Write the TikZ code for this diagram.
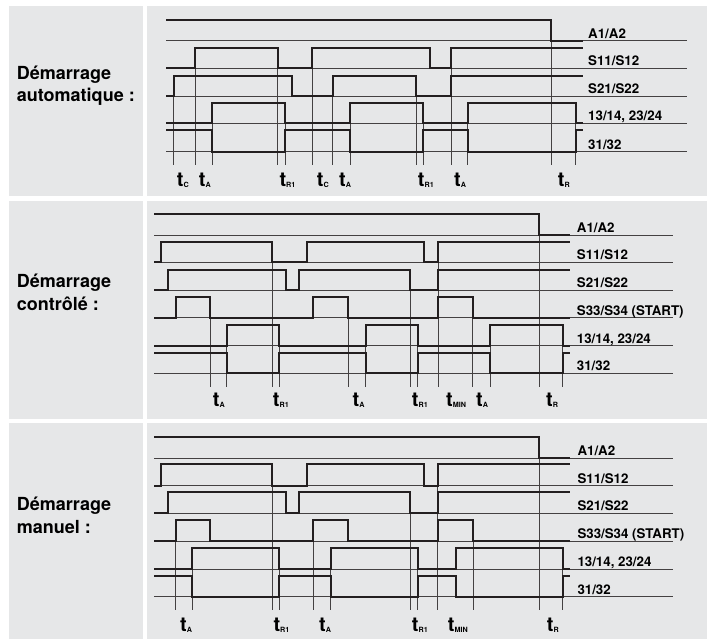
\documentclass[tikz,border=0pt]{standalone}
\usepackage{fontspec}
\setmainfont{TeX Gyre Heros}
\definecolor{panelgray}{HTML}{E6E7E8}
\definecolor{ink}{HTML}{231F20}
\newcommand{\tlab}[1]{{\fontsize{20}{20}\selectfont t}\raisebox{-1pt}{\fontsize{7.2}{7.2}\selectfont #1}}

\begin{document}
\begin{tikzpicture}[x=1pt,y=-1pt,
    signal/.style={ink, line width=2.1pt},
    guide/.style={ink!85, line width=0.7pt},
    sig/.style={anchor=base west, inner sep=0pt, font=\fontsize{13.3}{14}\selectfont\bfseries},
    mode/.style={anchor=base west, inner sep=0pt, align=left, font=\fontsize{18}{22.5}\selectfont\bfseries},
    tick/.style={anchor=base west, inner sep=0pt, font=\bfseries}]
  \fill[white] (0,0) rectangle (711,639);
  \useasboundingbox (0,0) rectangle (711,639);

  \fill[panelgray] (9,6) rectangle (142.7,196);
  \fill[panelgray] (146.7,6) rectangle (706.7,196);
  \fill[panelgray] (9,200.7) rectangle (142.7,419);
  \fill[panelgray] (146.7,200.7) rectangle (706.7,419);
  \fill[panelgray] (9,423.3) rectangle (142.7,639);
  \fill[panelgray] (146.7,423.3) rectangle (706.7,639);

  % automatique
  \node[mode] (auto) at (16.7,101.7) {Démarrage\\automatique :};
  \foreach \y in {40.7,68.3,96,123.3,151.7}
    \draw[guide] (166,\y) -- (687,\y);
  \foreach \x/\y in {173.7/75.7, 195/47.7, 212/103.3, 277.7/47.7, 285/103.3, 312/47.7,
      332.7/75.7, 350/103.3, 416.3/75.7, 423.3/103.3, 451/47.7, 467.7/103.3, 551/20, 575.7/103.3}
    \draw[guide] (\x,\y) -- (\x,165);
  \draw[signal] (166,20) -| (551,40.7) -- (583,40.7);
  \draw[signal] (166,68.3) -| (195,47.7) -| (277.7,68.3) -| (312,47.7) -| (430,68.3) -| (451,47.7) -- (583,47.7);
  \draw[signal] (166,96) -| (173.7,75.7) -| (292,96) -| (332.7,75.7) -| (416.3,96) -| (451,75.7) -- (583,75.7);
  \draw[signal] (166,123.3) -| (212,103.3) -| (285,123.3) -| (350,103.3) -| (423.3,123.3) -| (467.7,103.3) -| (575.7,123.3) -- (583,123.3);
  \draw[signal] (166,130) -| (212,151.7) -| (285,130) -| (350,151.7) -| (423.3,130) -| (467.7,151.7) -| (575.7,130) -- (583,130);
  \node[sig] (a1) at (588,38.3) {A1/A2};
  \node[sig] (s11) at (588,65.9) {S11/S12};
  \node[sig] (s21) at (588,93.6) {S21/S22};
  \node[sig] (k13) at (588,120.9) {13/14, 23/24};
  \node[sig] (k31) at (588,149.3) {31/32};
  \node[tick] (tc1) at (176.7,186.7) {\tlab{C}};
  \node[tick] (ta1) at (198.7,186.7) {\tlab{A}};
  \node[tick] (tr1) at (279.3,186.7) {\tlab{R1}};
  \node[tick] (tc2) at (316.7,186.7) {\tlab{C}};
  \node[tick] (ta2) at (339,186.7) {\tlab{A}};
  \node[tick] (tr2) at (417.7,186.7) {\tlab{R1}};
  \node[tick] (ta3) at (454,186.7) {\tlab{A}};
  \node[tick] (tr) at (557.7,186.7) {\tlab{R}};

  % controle
  \begin{scope}
  \node[mode] (ctrl) at (16.7,310) {Démarrage\\contrôlé :};
  \foreach \y in {235,262.3,290,317.7,345.7,373.3}
    \draw[guide] (154,\y) -- (673.3,\y);
  \foreach \x/\y in {210/297.3, 226.7/325, 272.3/241.7, 279/325, 348.3/297.3, 365.7/325,
      410/270, 417.7/325, 438.3/241.7, 472.7/297.3, 490/325, 539/214.3, 562.7/325}
    \draw[guide] (\x,\y) -- (\x,386.7);
  \draw[signal] (154,214.3) -| (539,235) -- (570,235);
  \draw[signal] (154,262.3) -| (161.3,241.7) -| (272.3,262.3) -| (306.7,241.7) -| (424,262.3) -| (438.3,241.7) -- (570,241.7);
  \draw[signal] (154,290) -| (168.3,270) -| (285.7,290) -| (299.3,270) -| (410,290) -| (438.3,270) -- (570,270);
  \draw[signal] (154,317.7) -| (175.7,297.3) -| (210,317.7) -| (313.3,297.3) -| (348.3,317.7) -| (438.3,297.3) -| (472.7,317.7) -- (570,317.7);
  \draw[signal] (154,345.7) -| (226.7,325) -| (279,345.7) -| (365.7,325) -| (417.7,345.7) -| (490,325) -| (562.7,345.7) -- (570,345.7);
  \draw[signal] (154,352.7) -| (226.7,373.3) -| (279,352.7) -| (365.7,373.3) -| (417.7,352.7) -| (490,373.3) -| (562.7,352.7) -- (570,352.7);
  \node[sig] (b1) at (576.7,232.6) {A1/A2};
  \node[sig] (b2) at (576.7,259.9) {S11/S12};
  \node[sig] (b3) at (576.7,287.6) {S21/S22};
  \node[sig] (b4) at (576.7,315.3) {S33/S34 (START)};
  \node[sig] (b5) at (576.7,343.3) {13/14, 23/24};
  \node[sig] (b6) at (576.7,370.9) {31/32};
  \node[tick] (ua1) at (212.7,406) {\tlab{A}};
  \node[tick] (ur1) at (272.7,406) {\tlab{R1}};
  \node[tick] (ua2) at (352.5,406) {\tlab{A}};
  \node[tick] (ur2) at (411.7,406) {\tlab{R1}};
  \node[tick] (umin) at (446,406) {\tlab{MIN}};
  \node[tick] (ua3) at (476,406) {\tlab{A}};
  \node[tick] (ur) at (546,406) {\tlab{R}};
  \end{scope}

  % manuel
  \begin{scope}
  \node[mode] (man) at (16.7,533.3) {Démarrage\\manuel :};
  \foreach \y in {458.3,485.7,513.3,541,569,596.7}
    \draw[guide] (154,\y) -- (673.3,\y);
  \foreach \x/\y in {175.7/520, 192.3/547.7, 272.3/464.3, 279/547.7, 313.3/520, 330.7/547.7,
      410/492.3, 417.7/547.7, 437.7/464.3, 473.3/520, 539/437.3, 562.7/547.7}
    \draw[guide] (\x,\y) -- (\x,610);
  \draw[signal] (154,437.3) -| (539,458.3) -- (570,458.3);
  \draw[signal] (154,485.7) -| (161.3,464.3) -| (272.3,485.7) -| (306.7,464.3) -| (424,485.7) -| (437.7,464.3) -- (570,464.3);
  \draw[signal] (154,513.3) -| (168.3,492.3) -| (285.7,513.3) -| (299.3,492.3) -| (410,513.3) -| (437.7,492.3) -- (570,492.3);
  \draw[signal] (154,541) -| (175.7,520) -| (210,541) -| (313.3,520) -| (348.3,541) -| (437.7,520) -| (473.3,541) -- (570,541);
  \draw[signal] (154,569) -| (192.3,547.7) -| (279,569) -| (330.7,547.7) -| (417.7,569) -| (456,547.7) -| (562.7,569) -- (570,569);
  \draw[signal] (154,575.7) -| (192.3,596.7) -| (279,575.7) -| (330.7,596.7) -| (417.7,575.7) -| (456,596.7) -| (562.7,575.7) -- (570,575.7);
  \node[sig] (c1) at (577.3,455.9) {A1/A2};
  \node[sig] (c2) at (577.3,483.3) {S11/S12};
  \node[sig] (c3) at (577.3,510.9) {S21/S22};
  \node[sig] (c4) at (577.3,538.6) {S33/S34 (START)};
  \node[sig] (c5) at (577.3,566.6) {13/14, 23/24};
  \node[sig] (c6) at (577.3,594.3) {31/32};
  \node[tick] (va1) at (180,631.7) {\tlab{A}};
  \node[tick] (vr1) at (273.3,631.7) {\tlab{R1}};
  \node[tick] (va2) at (319,631.7) {\tlab{A}};
  \node[tick] (vr2) at (411.7,631.7) {\tlab{R1}};
  \node[tick] (vmin) at (447.7,631.7) {\tlab{MIN}};
  \node[tick] (vr) at (546.7,631.7) {\tlab{R}};
  \end{scope}
\end{tikzpicture}
\end{document}
